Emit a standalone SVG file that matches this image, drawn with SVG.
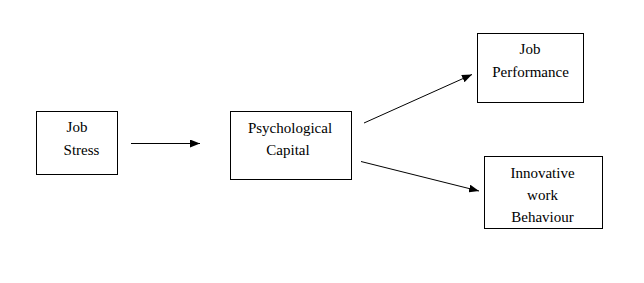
<svg xmlns="http://www.w3.org/2000/svg" width="644" height="283" viewBox="0 0 644 283">
<defs>
<marker id="ah" viewBox="0 0 10 8" refX="10" refY="4" markerWidth="10" markerHeight="8" markerUnits="userSpaceOnUse" orient="auto">
<path d="M0,0 L10,4 L0,8 Z" fill="#000"/>
</marker>
</defs>
<rect width="644" height="283" fill="#fff"/>
<g id="job-stress">
<rect x="36.5" y="111.5" width="81" height="63" fill="#fff" stroke="#000"/>
<text x="77" y="132" font-family="Times New Roman" font-size="15" text-anchor="middle">Job</text>
<text x="81.5" y="155" font-family="Times New Roman" font-size="15" text-anchor="middle">Stress</text>
</g>
<g id="psychological-capital">
<rect x="230.5" y="111.5" width="121" height="68" fill="#fff" stroke="#000"/>
<text x="290" y="133" font-family="Times New Roman" font-size="15" text-anchor="middle">Psychological</text>
<text x="288" y="155" font-family="Times New Roman" font-size="15" text-anchor="middle">Capital</text>
</g>
<g id="job-performance">
<rect x="477.5" y="33.5" width="106" height="69" fill="#fff" stroke="#000"/>
<text x="530" y="54" font-family="Times New Roman" font-size="15" text-anchor="middle">Job</text>
<text x="530.5" y="77" font-family="Times New Roman" font-size="15" text-anchor="middle">Performance</text>
</g>
<g id="innovative-work-behaviour">
<rect x="484.5" y="156.5" width="118" height="72" fill="#fff" stroke="#000"/>
<text x="542.5" y="178" font-family="Times New Roman" font-size="15" text-anchor="middle">Innovative</text>
<text x="542.5" y="200" font-family="Times New Roman" font-size="15" text-anchor="middle">work</text>
<text x="542.5" y="222" font-family="Times New Roman" font-size="15" text-anchor="middle">Behaviour</text>
</g>
<g id="connectors" stroke="#000" stroke-width="1" fill="none">
<line x1="131" y1="143.5" x2="200" y2="143.5" marker-end="url(#ah)"/>
<line x1="364" y1="123" x2="472" y2="74.5" marker-end="url(#ah)"/>
<line x1="361" y1="161.5" x2="479" y2="191" marker-end="url(#ah)"/>
</g>
</svg>
